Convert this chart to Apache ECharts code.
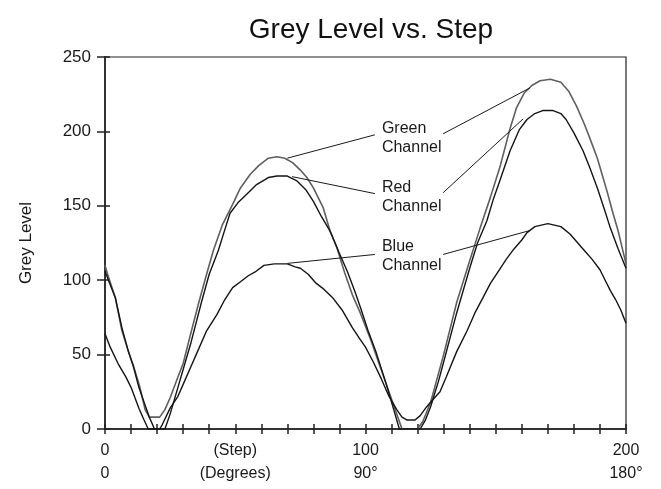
<!DOCTYPE html>
<html>
<head>
	<meta charset="utf-8">
	<title>Grey Level vs. Step</title>
	<script src="https://cdn.jsdelivr.net/npm/echarts@6/dist/echarts.min.js"></script>
	<style type="text/css">
		* {
			padding: 0;
			margin: 0;
		}
		body {
			background: #fff;
		}
		#chart {
			width: 661px;
			height: 489px;
		}
	</style>
</head>
<body>
	<div id="chart"></div>
	<script type="text/javascript">
		// tick labels on the step axis (two rows: step / degrees)
		var labelSteps = [0, 50, 100, 200];
		var stepLabels = ['0', '(Step)', '100', '200'];
		var degreeLabels = ['0', '(Degrees)', '90°', '180°'];

		// [step, grey level]
		var green = [
			[0,110],[1,104],[4,88],[6.5,66],[9,52],[11,42],[13.4,28],[15.4,13],[17,8],[21,8],[23,13],[25,21],
			[28,35],[30,44],[32.6,62],[36,85],[39,104],[41.6,120],[45,137],[49,151],[52,162],[55.7,171],
			[59,177],[62.7,182],[66,183],[69,182],[72,179],[75,174],[77.5,169],[80,162],[83.7,149],[86.4,133],
			[89,122],[92,105],[95,90],[98,78],[102,60],[106,40],[110,20],[113,5],[114,0],[120,0],[122,5],
			[125,18],[130,50],[135,85],[140,113],[144,135],[148,156],[151.6,176],[155.5,202],[158,216],
			[161,226],[164,231],[167,234],[171,235],[175,233],[178,227],[181,217],[184,205],[186,196],[189,182],
			[191,170],[193,158],[195,145],[197,133],[200,111]
		];
		var red = [
			[0,106],[2,97],[4,88],[6.5,68],[9,52],[10.9,42],[13,28],[15,18],[17,8],[19,0],[23,0],[25,10],
			[28,28],[30,40],[33,58],[37,85],[40,104],[43.5,120],[46,134],[48,145],[51,152],[54.5,158],
			[58,164],[62.7,169],[66,170],[70,170],[73.5,167],[77,161],[80,153],[83,143],[86.4,133],[90,118],
			[93,106],[96,92],[98,82],[101,66],[104,52],[108,30],[111,12],[113,0],[121,0],[123,6],[125,15],
			[128,32],[130,45],[135,78],[140,108],[143,125],[146.6,140],[149,154],[151.6,167],[155.5,187],
			[159,201],[162,208],[165,212],[168,214],[172,214],[175,212],[177,208],[180,199],[183.5,187],[186,176],
			[189,162],[192,146],[194,135],[197,121],[200,108]
		];
		var blue = [
			[0,64],[2,55],[5,44],[8,35],[10,28],[13,14],[15,6],[16.6,0],[21,0],[22,3],[25,14],[28,22],
			[30,30],[33,42],[35,50],[39,66],[43,77],[46,87],[49,95],[52,99],[55,103],[58,106],[61,110],
			[65,111],[70,111],[73,109],[75,108],[78,104],[81,98],[84,94],[87.5,88],[91,80],[95,68],[98,60],
			[100,55],[103,45],[106,34],[109,22],[112,13],[114,8],[116,6],[119,6],[121,9],[123.5,15],[126,20],
			[128.6,25],[131,35],[135,52],[139,66],[142,78],[145,88],[148,98],[151,106],[154,114],[157,121],
			[160,127],[162,132],[165,136],[170,138],[175,136],[178.5,131],[181,126],[184,120],[187,114],
			[190,107],[192,100],[194,93],[196,87],[198,80],[200,71]
		];

		// leader lines: [step, level] -> [step, level]
		var greenLeaders = [[[70,182],[103.6,197.7]], [[129.8,198.4],[163.1,229.2]]];
		var redLeaders = [[[71.8,169.6],[103.6,158.2]], [[129.8,158.8],[160.5,208.4]]];
		var blueLeaders = [[[70,111.3],[103.6,117.3]], [[129.8,117.3],[163.1,133.4]]];
		// text anchors (left edge, vertical middle)
		var greenNote = [106.3, 195.4];
		var redNote = [106.3, 156];
		var blueNote = [106.3, 116];

		var font = 'Liberation Sans, Arial, sans-serif';

		function leaders(list) {
			return {
				silent: true,
				symbol: 'none',
				animation: false,
				label: {show: false},
				lineStyle: {color: '#1a1a1a', width: 1, type: 'solid'},
				data: list.map(function (l) {
					return [{coord: l[0]}, {coord: l[1]}];
				})
			};
		}

		function note(pos, text) {
			return {
				silent: true,
				symbol: 'circle',
				symbolSize: 0,
				label: {
					show: true,
					position: 'right',
					distance: 0,
					formatter: text,
					color: '#1a1a1a',
					fontFamily: font,
					fontSize: 16,
					lineHeight: 19,
					align: 'left'
				},
				data: [{coord: pos}]
			};
		}

		var myChart = echarts.init(document.getElementById('chart'), null, {renderer: 'canvas'});
		myChart.setOption({
			animation: false,
			backgroundColor: '#fff',
			title: {
				text: 'Grey Level vs. Step',
				left: 366,
				textAlign: 'center',
				top: 11,
				textStyle: {
					fontFamily: font,
					fontSize: 28,
					fontWeight: 'normal',
					color: '#111'
				}
			},
			grid: {
				left: 105,
				right: 35,
				top: 57,
				bottom: 60,
				containLabel: false,
				show: true,
				borderColor: '#222',
				borderWidth: 1.2
			},
			xAxis: [
			{
				type: 'value',
				min: 0,
				max: 200,
				interval: 10,
				splitLine: {show: false},
				axisLine: {show: true, onZero: false, lineStyle: {color: '#333', width: 2}},
				axisTick: {show: true, length: 5, lineStyle: {color: '#222', width: 1.5}},
				axisLabel: {
					margin: 10,
					color: '#1a1a1a',
					fontFamily: font,
					fontSize: 16,
					lineHeight: 23,
					formatter: function (v) {
						var i = labelSteps.indexOf(v);
						return i < 0 ? '' : stepLabels[i] + '\n' + degreeLabels[i];
					}
				}
			},
			{
				type: 'value',
				min: 0,
				max: 200,
				interval: 10,
				position: 'bottom',
				splitLine: {show: false},
				axisLine: {show: false},
				axisTick: {show: true, inside: true, length: 5, lineStyle: {color: '#222', width: 1.5}},
				axisLabel: {show: false}
			}
			],
			yAxis: [
			{
				type: 'value',
				min: 0,
				max: 250,
				interval: 50,
				name: 'Grey Level',
				nameLocation: 'middle',
				nameGap: 70,
				nameTextStyle: {fontFamily: font, fontSize: 17, color: '#1a1a1a'},
				splitLine: {show: false},
				axisLine: {show: true, onZero: false, lineStyle: {color: '#333', width: 2}},
				axisTick: {show: true, length: 8, lineStyle: {color: '#222', width: 1.5}},
				axisLabel: {margin: 14, color: '#1a1a1a', fontFamily: font, fontSize: 17}
			},
			{
				type: 'value',
				min: 0,
				max: 250,
				interval: 50,
				position: 'left',
				splitLine: {show: false},
				axisLine: {show: false},
				axisTick: {show: true, inside: true, length: 5, lineStyle: {color: '#222', width: 1.5}},
				axisLabel: {show: false}
			}
			],
			series: [
			{
				name: 'Green Channel',
				type: 'line',
				data: green,
				symbol: 'none',
				lineStyle: {color: '#5f5f5f', width: 1.6},
				markLine: leaders(greenLeaders),
				markPoint: note(greenNote, 'Green\nChannel')
			},
			{
				name: 'Red Channel',
				type: 'line',
				data: red,
				symbol: 'none',
				lineStyle: {color: '#141414', width: 1.4},
				markLine: leaders(redLeaders),
				markPoint: note(redNote, 'Red\nChannel')
			},
			{
				name: 'Blue Channel',
				type: 'line',
				data: blue,
				symbol: 'none',
				lineStyle: {color: '#141414', width: 1.4},
				markLine: leaders(blueLeaders),
				markPoint: note(blueNote, 'Blue\nChannel')
			}
			]
		});
	</script>
</body>
</html>
